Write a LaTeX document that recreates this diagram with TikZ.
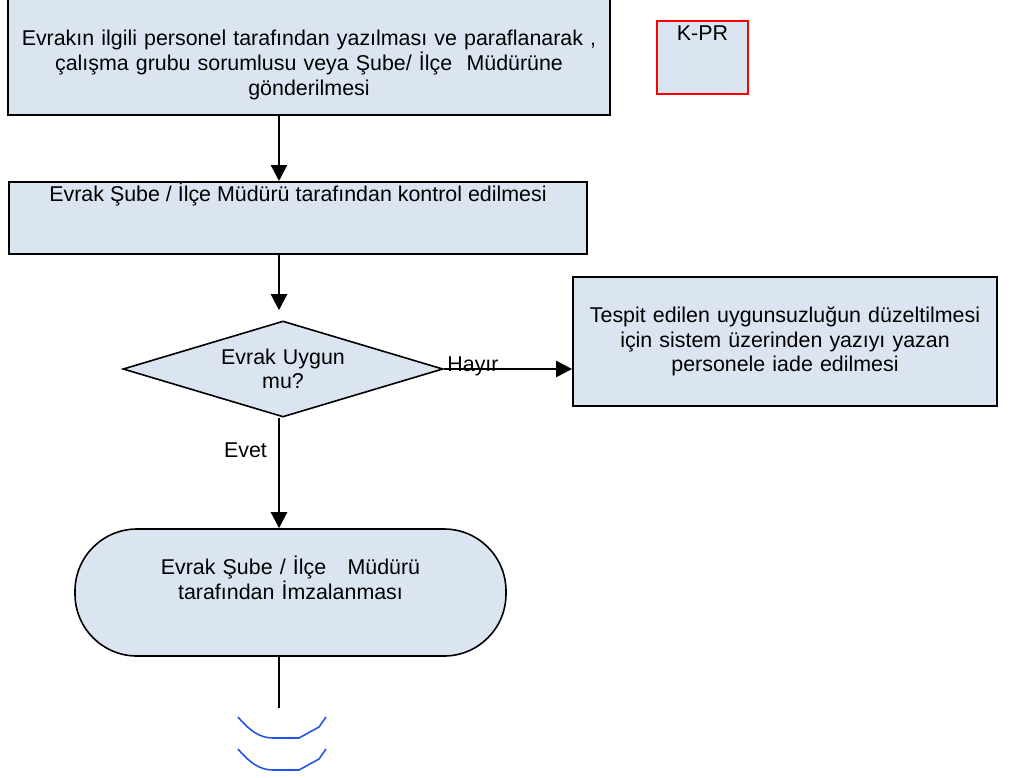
\documentclass[tikz,border=0pt]{standalone}
\usepackage{fontspec}
\setmainfont{Liberation Sans}
\usetikzlibrary{arrows.meta,%
                shapes.geometric,%
                positioning}
\definecolor{kutumavi}{RGB}{219,229,241}
\definecolor{yaymavi}{RGB}{35,85,235}

\begin{document}
\begin{tikzpicture}[x=.5pt,y=-.5pt,
    yazi/.style={font=\fontsize{10.7}{12.3}\selectfont},
    kutu/.style={draw,line width=1pt,fill=kutumavi,yazi,inner sep=0pt},
    ok/.style={-{Triangle[length=8pt,width=8pt]},line width=1.2pt}]

      \useasboundingbox (0,0) rectangle (1009,778);
      \coordinate (eksen) at (279,0);

      \node[kutu,minimum width=301pt,minimum height=59.5pt,text width=290pt,
        align=center,text height=17.2pt] (yaz) at (309,55.5)
        {Evrakın ilgili personel tarafından yazılması ve paraflanarak ,\\
         çalışma grubu sorumlusu veya Şube/ İlçe\ \ Müdürüne\\
         gönderilmesi};
      \node[kutu,draw=red,minimum width=45.5pt,minimum height=36.5pt,
        text height=8pt,text depth=25pt] (kpr) at (702.5,57.5) {K-PR};

      \node[kutu,minimum width=289pt,minimum height=36pt,text height=8pt,
        text depth=25pt] (kontrol) at (298,218)
        {Evrak Şube / İlçe Müdürü tarafından kontrol edilmesi};

      \node[diamond,draw,line width=.8pt,fill=kutumavi,yazi,aspect=3.33,
        inner sep=0pt,minimum width=160pt,minimum height=48pt,text width=70pt,
        align=center] (uygun) at (283,369) {Evrak Uygun\\ mu?};

      \node[kutu,line width=.9pt,minimum width=212pt,minimum height=64.5pt,
        text width=205pt,align=center] (iade) at (785,341.5)
        {Tespit edilen uygunsuzluğun düzeltilmesi\\
         için sistem üzerinden yazıyı yazan\\
         personele iade edilmesi};

      \node[kutu,line width=.8pt,rounded corners=31pt,minimum width=215.5pt,
        minimum height=63.5pt,text width=150pt,align=center,text height=8pt,
        text depth=26pt] (imza) at (290.5,592.5)
        {Evrak Şube / İlçe\ \ \ Müdürü\\ tarafından İmzalanması};

      \node[yazi,anchor=base] (hayir) at (473,371) {Hayır};
      \node[yazi,anchor=base] (evet) at (245.5,457) {Evet};

      \draw[ok] (yaz.south -| eksen) -- (kontrol.north -| eksen);
      \draw[ok,shorten >=5pt] (kontrol.south -| eksen) -- (uygun.north -| eksen);
      \draw[ok] (uygun.east) -- (uygun.east -| iade.west);
      \draw[ok] (uygun.south -| eksen) -- (imza.north -| eksen);

      \coordinate (kesik) at (279,708);
      \draw[line width=.6pt] (imza.south -| eksen) -- (kesik);

      % kesme isareti
      \foreach \dy in {0,32}
        \draw[yaymavi,line width=.8pt] (238,717+\dy) .. controls (250,731+\dy)
          and (260,738+\dy) .. (273,738+\dy) -- (299,738+\dy)
          -- (319,727+\dy) -- (326,717+\dy);
    \end{tikzpicture}
\end{document}
